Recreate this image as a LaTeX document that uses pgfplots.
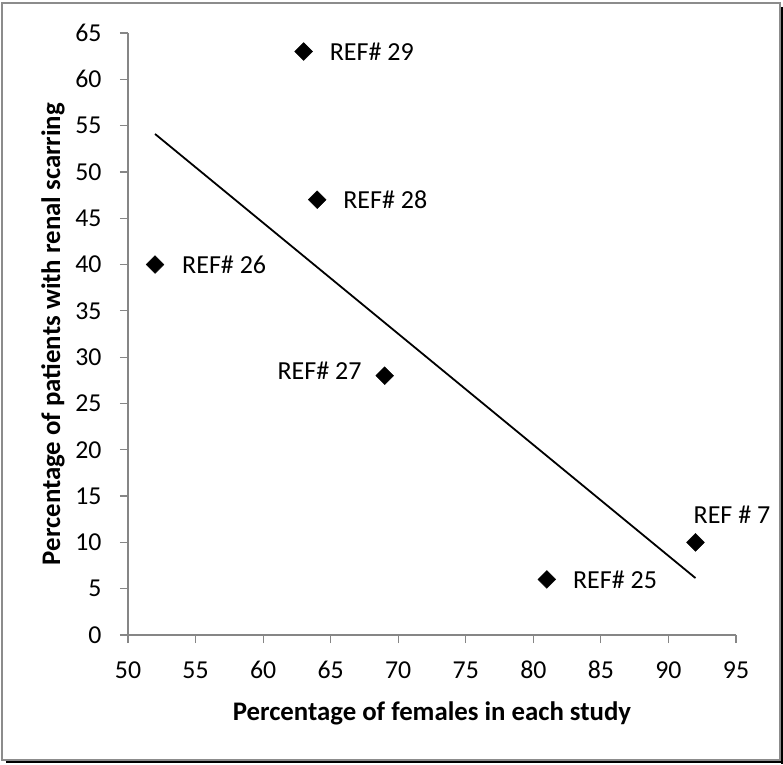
\documentclass[border=0pt]{standalone}
\usepackage{pgfplots}
\pgfplotsset{compat=1.18}
\usepackage{fontspec}
\setmainfont{Carlito}
\definecolor{axgray}{HTML}{868686}
\definecolor{framegray}{HTML}{8C8C8C}
\newcommand{\tickfont}{\fontsize{25.8}{30}\selectfont}
\newcommand{\lblfont}{\fontsize{26}{30}\selectfont}
\newcommand{\axfont}{\fontsize{26.8}{32}\selectfont\bfseries}
\begin{document}
\begin{tikzpicture}[x=1pt,y=1pt]
\useasboundingbox (-128,635) rectangle (655,-129);
\begin{axis}[
  at={(0,0)}, anchor=south west,
  scale only axis, width=608pt, height=602pt,
  xmin=50, xmax=95, ymin=0, ymax=65,
  xtick={50,55,...,95}, ytick={0,5,...,65},
  axis lines=left, axis line style={axgray, line width=1.2pt, -},
  tick style={axgray, line width=1.2pt}, tick align=outside,
  major tick length=8pt,
  /pgf/number format/assume math mode=true,
  xticklabel style={font=\tickfont, anchor=base, yshift=-35pt},
  yticklabel style={font=\tickfont, anchor=east, xshift=-15pt},
  xlabel={Percentage of females in each study},
  ylabel={Percentage of patients with renal scarring},
  every axis x label/.style={at={(axis description cs:0.5,0)}, anchor=base, yshift=-85pt, font=\axfont},
  every axis y label/.style={at={(axis description cs:-0.1233,0.5)}, anchor=center, rotate=90, font=\axfont},
  clip=false,
]
\addplot[black, line width=1.8pt, no marks] coordinates {(52,54.1) (92,6.15)};
\addplot[only marks, mark=square*, mark size=6.3pt, mark options={rotate=45, fill=black, draw=black}]
  coordinates {(52,40) (63,63) (64,47) (69,28) (81,6) (92,10)};
\node[anchor=west, inner sep=0pt, xshift=26pt, font=\lblfont] at (axis cs:63,63) {REF\# 29};
\node[anchor=west, inner sep=0pt, xshift=26pt, font=\lblfont] at (axis cs:64,47) {REF\# 28};
\node[anchor=west, inner sep=0pt, xshift=27pt, font=\lblfont] at (axis cs:52,40) {REF\# 26};
\node[anchor=east, inner sep=0pt, xshift=-23pt, yshift=5pt, font=\lblfont] at (axis cs:69,28) {REF\# 27};
\node[anchor=west, inner sep=0pt, xshift=26pt, font=\lblfont] at (axis cs:81,6) {REF\# 25};
\node[anchor=base west, inner sep=0pt, xshift=-2pt, yshift=19pt, font=\lblfont] at (axis cs:92,10) {REF \# 7};
\end{axis}
\draw[framegray, line width=1.8pt] (-126,632) rectangle (652,-125);
\draw[black, line width=2pt] (654,628) -- (654,-129);
\draw[black, line width=2pt] (-122,-127) -- (655,-127);
\end{tikzpicture}
\end{document}
